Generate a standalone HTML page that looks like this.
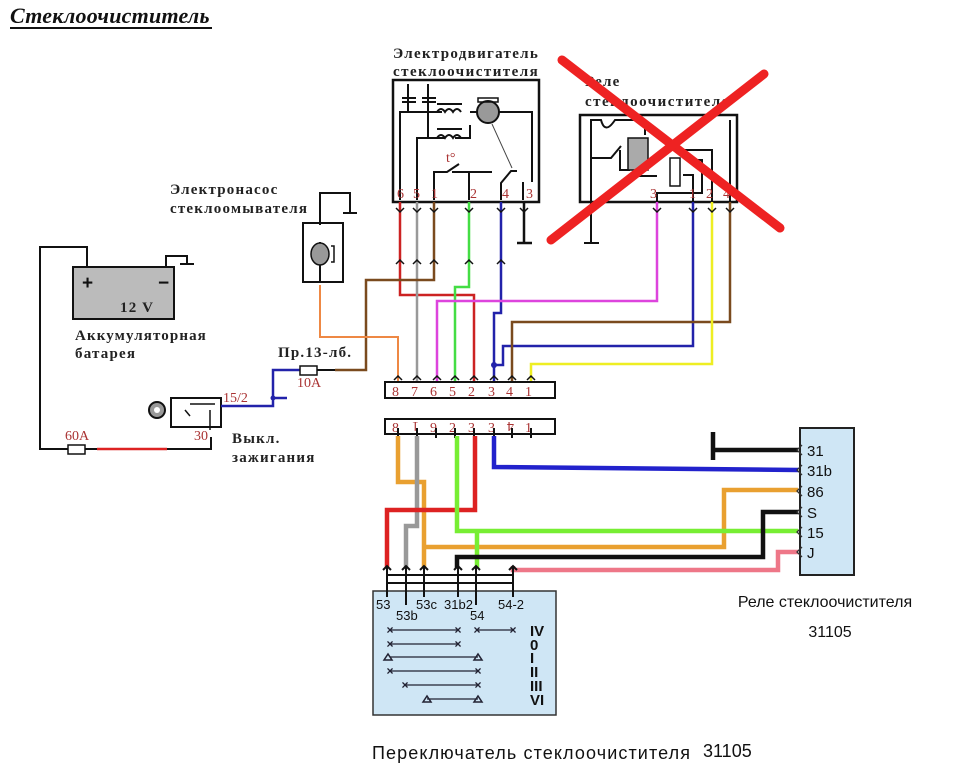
<!DOCTYPE html>
<html><head><meta charset="utf-8"><style>
html,body{margin:0;padding:0;background:#fff;}
svg{display:block;}
.t{font-family:"Liberation Serif","DejaVu Serif",serif;font-weight:bold;font-size:15px;letter-spacing:1.2px;fill:#222;}
.n{font-family:"Liberation Serif",serif;font-size:14px;fill:#a33;}
.s{font-family:"Liberation Sans","DejaVu Sans",sans-serif;fill:#111;}
</style></head><body>
<svg width="960" height="778" viewBox="0 0 960 778" xmlns="http://www.w3.org/2000/svg">
<rect width="960" height="778" fill="#fff"/>
<text x="10" y="23" style="font-family:'Liberation Serif',serif;font-style:italic;font-weight:bold;font-size:22px;letter-spacing:0.5px" fill="#111" textLength="200">Стеклоочиститель</text>
<line x1="10" y1="28" x2="212" y2="28" stroke="#111" stroke-width="2"/>

<text x="393" y="58" class="t" textLength="146">Электродвигатель</text>
<text x="393" y="76" class="t" textLength="146">стеклоочистителя</text>
<rect x="393" y="80" width="146" height="122" fill="none" stroke="#111" stroke-width="2.5"/>
<g stroke="#111" stroke-width="2" fill="none">
<path d="M400 200V112H420M408 112V95M428 112V95M408 84V98M428 84V98"/>
<path d="M402 98h14M402 102h14M422 98h14M422 102h14"/>
<path d="M420 112h22M470 112h62V182"/>
<path d="M417 200V138H428M428 98V138H445M455 138h15V125"/>
<path d="M434 200V172H447l12-8M452 172h40M469 172V200"/>
<path d="M501 200V183l10-12h6M523 182v18"/>
</g>
<path d="M437 112q4-6 8 0q4-6 8 0q4-6 8 0" stroke="#111" stroke-width="2" fill="none"/>
<path d="M437 138q4-6 8 0q4-6 8 0q4-6 8 0" stroke="#111" stroke-width="2" fill="none"/>
<line x1="437" y1="104" x2="462" y2="104" stroke="#111" stroke-width="2"/>
<line x1="437" y1="129" x2="462" y2="129" stroke="#111" stroke-width="2"/>
<circle cx="488" cy="112" r="11" fill="#999" stroke="#111" stroke-width="2"/>
<rect x="478" y="98" width="20" height="4" fill="none" stroke="#111" stroke-width="1.5"/>
<line x1="492" y1="124" x2="512" y2="168" stroke="#444" stroke-width="1"/>
<text x="446" y="162" class="n">t°</text>
<g class="n" font-size="15"><text x="397" y="198">6</text><text x="413" y="198">5</text><text x="431" y="198">1</text><text x="470" y="198">2</text><text x="502" y="198">4</text><text x="526" y="198">3</text></g>
<path d="M524 202V243M517 243h15" stroke="#111" stroke-width="2.5" fill="none"/>

<text x="585" y="86" class="t">Реле</text>
<text x="585" y="106" class="t" textLength="146">стеклоочистителя</text>
<rect x="580" y="115" width="157" height="87" fill="none" stroke="#111" stroke-width="2.5"/>
<g stroke="#111" stroke-width="2" fill="none">
<path d="M591 243V120h10q4 15 14 0h30v15M591 158h20l10-12M620 150v20h10"/>
<path d="M657 202V193h45V160h-10M657 176h-25"/>
<path d="M693 202V175h-10M712 202V150h-50M730 202V120"/>
<path d="M584 243h15"/>
</g>
<rect x="628" y="138" width="20" height="32" fill="#aaa" stroke="#111" stroke-width="1.5"/>
<rect x="670" y="158" width="10" height="28" fill="none" stroke="#111" stroke-width="1.5"/>
<g class="n" font-size="15"><text x="650" y="198">3</text><text x="689" y="198">1</text><text x="706" y="198">2</text><text x="723" y="198">4</text></g>
<line x1="562" y1="60" x2="780" y2="228" stroke="#e22" stroke-width="9" stroke-linecap="round"/>
<line x1="764" y1="74" x2="551" y2="240" stroke="#e22" stroke-width="9" stroke-linecap="round"/>

<g fill="none" stroke-width="2.5">
<path d="M400 202V295H474V382" stroke="#c22"/>
<path d="M417 202V382" stroke="#999"/>
<path d="M434 202V280H366V370H335" stroke="#7a4a1e"/>
<path d="M469 202V287H455V382" stroke="#4d4"/>
<path d="M501 202V313H494V382" stroke="#22a"/>
<path d="M657 202V301H437V382" stroke="#d4d"/>
<path d="M693 202V346H503V365H494" stroke="#22a"/>
<path d="M730 202V322H512V382" stroke="#7a4a1e"/>
<path d="M712 202V364H531V382" stroke="#ee2"/>
<path d="M320 285V337H398V382" stroke="#e84" stroke-width="2"/>
</g>
<circle cx="494" cy="365" r="3" fill="#22a"/>
<g stroke="#111" stroke-width="1.5" fill="none">
<path d="M396 208l4 4 4-4M413 208l4 4 4-4M430 208l4 4 4-4M465 208l4 4 4-4M497 208l4 4 4-4M520 208l4 4 4-4"/>
<path d="M653 208l4 4 4-4M689 208l4 4 4-4M708 208l4 4 4-4M726 208l4 4 4-4"/>
<path d="M396 264l4-4 4 4M413 264l4-4 4 4M430 264l4-4 4 4M465 264l4-4 4 4M497 264l4-4 4 4"/>
<path d="M394 380l4-4 4 4M413 380l4-4 4 4M433 380l4-4 4 4M451 380l4-4 4 4M470 380l4-4 4 4M490 380l4-4 4 4M508 380l4-4 4 4M527 380l4-4 4 4"/>
</g>
<rect x="385" y="382" width="170" height="16" fill="#fff" stroke="#111" stroke-width="2"/>
<g class="n" font-size="14"><text x="392" y="396">8</text><text x="411" y="396">7</text><text x="430" y="396">6</text><text x="449" y="396">5</text><text x="468" y="396">2</text><text x="488" y="396">3</text><text x="506" y="396">4</text><text x="525" y="396">1</text></g>
<rect x="385" y="419" width="170" height="15" fill="#fff" stroke="#111" stroke-width="2"/>
<g class="n" font-size="14"><text x="392" y="432">8</text><text x="411" y="432" transform="rotate(180 415 427)">1</text><text x="430" y="432">9</text><text x="449" y="432">2</text><text x="468" y="432">3</text><text x="488" y="432">3</text><text x="506" y="432" transform="rotate(180 510 427)">4</text><text x="525" y="432">1</text></g>
<g stroke="#111" stroke-width="2"><path d="M398 428v10M417 428v10M436 428v10M455 428v10M474 428v10M494 428v10M512 428v10M531 428v10"/></g>

<g fill="none" stroke-width="4.5">
<path d="M798 552H778V570H513V566" stroke="#e78"/>
<path d="M398 436V482H424V568" stroke="#e9a030"/>
<path d="M424 547H724V490H798" stroke="#e9a030"/>
<path d="M417 436V526H406V568" stroke="#999"/>
<path d="M475 436V510H387V568" stroke="#d22"/>
<path d="M457 436V531H798M477 531V568" stroke="#7e3"/>
<path d="M494 436V467L798 470" stroke="#22c"/>
<path d="M798 512H763V557H457V568" stroke="#111"/>
<path d="M713 450H798M713 432V460" stroke="#111"/>
</g>
<rect x="800" y="428" width="54" height="147" fill="#cfe6f5" stroke="#222" stroke-width="2"/>
<g stroke="#333" stroke-width="1.3" fill="none"><path d="M802 445l-5 5 5 5M802 465l-5 5 5 5M802 486l-5 5 5 5M802 507l-5 5 5 5M802 527l-5 5 5 5M802 547l-5 5 5 5"/></g>
<g class="s" font-size="15"><text x="807" y="456">31</text><text x="807" y="476">31b</text><text x="807" y="497">86</text><text x="807" y="518">S</text><text x="807" y="538">15</text><text x="807" y="558">J</text></g>
<text x="825" y="607" class="s" font-size="16" text-anchor="middle">Реле стеклоочистителя</text>
<text x="830" y="637" class="s" font-size="16" text-anchor="middle">31105</text>

<rect x="373" y="591" width="183" height="124" fill="#cfe6f5" stroke="#333" stroke-width="1.5"/>
<g stroke="#111" stroke-width="2" fill="none">
<path d="M387 575H513M387 583H513M387 566V597M406 566V605M424 566V597M458 566V597M476 566V605M513 566V597"/>
<path d="M383 570l4-4 4 4M402 570l4-4 4 4M420 570l4-4 4 4M454 570l4-4 4 4M472 570l4-4 4 4M509 570l4-4 4 4"/>
</g>
<g class="s" font-size="13" fill="#111"><text x="376" y="609">53</text><text x="396" y="620">53b</text><text x="416" y="609">53c</text><text x="444" y="609">31b2</text><text x="470" y="620">54</text><text x="498" y="609">54-2</text></g>
<g stroke="#223" stroke-width="1.2" fill="none">
<path d="M390 630H458M477 630H513M390 644H458M390 657H478M390 671H478M405 685H478M427 699H478"/>
</g>
<g font-family="Liberation Sans,sans-serif" font-size="12" fill="#223" text-anchor="middle" font-weight="bold">
<text x="390" y="634">×</text><text x="458" y="634">×</text><text x="477" y="634">×</text><text x="513" y="634">×</text>
<text x="390" y="648">×</text><text x="458" y="648">×</text>
<text x="390" y="675">×</text><text x="478" y="675">×</text>
<text x="405" y="689">×</text><text x="478" y="689">×</text>
</g>
<g stroke="#223" stroke-width="1.5" fill="none"><path d="M384 660l4-6 4 6zM474 660l4-6 4 6zM423 702l4-6 4 6zM474 702l4-6 4 6z"/></g>
<g class="s" font-size="15" font-weight="bold" fill="#223"><text x="530" y="636">IV</text><text x="530" y="650">0</text><text x="530" y="663">I</text><text x="530" y="677">II</text><text x="530" y="691">III</text><text x="530" y="705">VI</text></g>
<text x="372" y="759" class="s" font-size="18" textLength="318">Переключатель стеклоочистителя</text>
<text x="703" y="757" class="s" font-size="18">31105</text>

<text x="170" y="194" class="t">Электронасос</text>
<text x="170" y="213" class="t">стеклоомывателя</text>
<rect x="303" y="223" width="40" height="59" fill="none" stroke="#111" stroke-width="2"/>
<path d="M320 225V193H350V213M343 213h14" stroke="#111" stroke-width="2" fill="none"/>
<path d="M320 242V283" stroke="#111" stroke-width="2"/>
<ellipse cx="320" cy="254" rx="9" ry="11" fill="#999" stroke="#111" stroke-width="1.5"/>
<path d="M331 246h3v16h-3" stroke="#111" stroke-width="1.5" fill="none"/>

<rect x="73" y="267" width="101" height="52" fill="#bbb" stroke="#111" stroke-width="2"/>
<text x="82" y="289" font-family="Liberation Sans" font-weight="bold" font-size="19" fill="#111">+</text>
<text x="158" y="289" font-family="Liberation Sans" font-weight="bold" font-size="19" fill="#111">−</text>
<text x="120" y="312" class="t" font-size="17">12 V</text>
<text x="75" y="340" class="t" textLength="132">Аккумуляторная</text>
<text x="75" y="358" class="t">батарея</text>
<g fill="none" stroke="#111" stroke-width="2">
<path d="M87 267V247H40V449H68M85 449H97"/>
<path d="M166 267V256H187V264M180 264h14"/>
<path d="M167 449H211V437"/>
</g>
<rect x="68" y="445" width="17" height="9" fill="#fff" stroke="#111" stroke-width="1.5"/>
<path d="M97 449H167" stroke="#d22" stroke-width="2.5"/>
<text x="65" y="440" class="n" font-size="14">60A</text>

<circle cx="157" cy="410" r="8" fill="#999" stroke="#111" stroke-width="2"/>
<circle cx="157" cy="410" r="3" fill="#fff"/>
<rect x="171" y="398" width="50" height="29" fill="none" stroke="#111" stroke-width="2"/>
<path d="M185 410l5 6M190 404h25M210 410v20" stroke="#111" stroke-width="1.5" fill="none"/>
<text x="223" y="402" class="n" font-size="14">15/2</text>
<text x="194" y="440" class="n" font-size="14">30</text>
<text x="232" y="443" class="t">Выкл.</text>
<text x="232" y="462" class="t">зажигания</text>
<path d="M221 406H273V370H300M273 398H287" stroke="#22a" stroke-width="2.5" fill="none"/>
<circle cx="273" cy="398" r="2.5" fill="#22a"/>
<rect x="300" y="366" width="17" height="9" fill="#fff" stroke="#111" stroke-width="1.5"/>
<path d="M317 370H335" stroke="#111" stroke-width="2"/>
<text x="278" y="357" class="t">Пр.13-лб.</text>
<text x="297" y="387" class="n" font-size="14">10A</text>
</svg>
</body></html>
